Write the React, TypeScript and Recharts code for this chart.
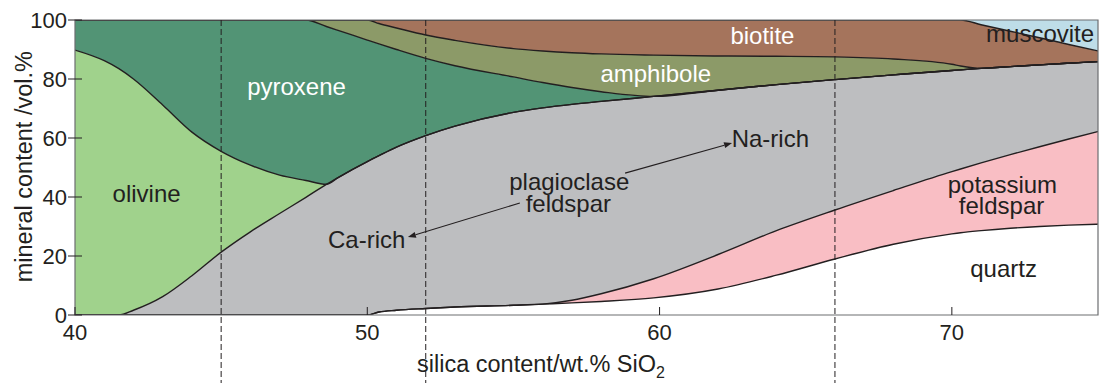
import React from 'react';
import { AreaChart, Area, XAxis, YAxis, ReferenceLine, ReferenceDot, ReferenceArea } from 'recharts';

// silica content (wt.% SiO2) sample positions
const silica = [40, 41, 41.5, 42, 43, 44, 45, 46, 47, 47.9, 48.6, 49, 50, 50.4, 51, 52, 53, 55, 56, 57, 58, 59.8, 62, 64, 66, 68, 70, 70.3, 71, 72, 73, 74, 75];

// upper boundary (cumulative vol.%) of each mineral field
const quartzTop = [0, 0, 0, 0, 0, 0, 0, 0, 0, 0, 0, 0, 0, 1.0, 1.6, 2.2, 2.7, 3.3, 3.7, 4.1, 4.6, 5.8, 8.8, 13.5, 19, 24, 27.5, 27.9, 28.6, 29.4, 30.0, 30.45, 30.8];
const kfeldsparTop = [0, 0, 0, 0, 0, 0, 0, 0, 0, 0, 0, 0, 0, 1.0, 1.6, 2.2, 2.7, 3.3, 3.7, 5.0, 7.2, 12.3, 20.5, 28.6, 35.6, 42.2, 48.6, 49.5, 51.55, 54.35, 57.05, 59.65, 62.2];
const plagioclaseTop = [0, 0, 0, 1.6, 6.2, 13.3, 21.3, 28.2, 34.4, 39.9, 44.3, 46.6, 52, 54, 56.9, 60.8, 64, 68.7, 70.2, 71.4, 72.4, 74.1, 76.2, 78.1, 79.8, 81.4, 82.9, 83.1, 83.6, 84.2, 84.8, 85.35, 85.9];
const olivineTop = [89.8, 86.2, 83.5, 80, 71.2, 62, 55.5, 50.8, 47.4, 45.6, 44.3, 46.6, 52, 54, 56.9, 60.8, 64, 68.7, 70.2, 71.4, 72.4, 74.1, 76.2, 78.1, 79.8, 81.4, 82.9, 83.1, 83.6, 84.2, 84.8, 85.35, 85.9];
const pyroxeneTop = [100, 100, 100, 100, 100, 100, 100, 100, 100, 100, 97.8, 96.5, 93.2, 91.9, 90, 87, 84.5, 80.7, 78.8, 77.1, 75.7, 74.1, 76.2, 78.1, 79.8, 81.4, 82.9, 83.1, 83.6, 84.2, 84.8, 85.35, 85.9];
const amphiboleTop = [100, 100, 100, 100, 100, 100, 100, 100, 100, 100, 100, 100, 100, 98.8, 97.3, 94.9, 93.1, 90.3, 89.5, 88.9, 88.5, 88.1, 87.8, 87.7, 87.5, 86.8, 85, 84.4, 83.6, 84.2, 84.8, 85.35, 85.9];
const biotiteTop = [100, 100, 100, 100, 100, 100, 100, 100, 100, 100, 100, 100, 100, 100, 100, 100, 100, 100, 100, 100, 100, 100, 100, 100, 100, 100, 100, 100, 98.4, 96.2, 94, 91.7, 89.5];
const muscoviteTop = silica.map(() => 100);

const xTicks = [40, 50, 60, 70];
const yTicks = [0, 20, 40, 60, 80, 100];
const dividers = [45, 52, 66];

const xTitle = 'silica content/wt.% SiO';
const xTitleSub = '2';
const yTitle = 'mineral content /vol.%';

const fieldLabels = [
  { text: 'olivine', x: 42.45, y: 41.2, light: false },
  { text: 'pyroxene', x: 47.58, y: 77.4, light: true },
  { text: 'amphibole', x: 59.87, y: 81.9, light: true },
  { text: 'biotite', x: 63.52, y: 94.9, light: true },
  { text: 'muscovite', x: 73.02, y: 95.5, light: false },
  { text: 'plagioclase', x: 56.91, y: 45.4, light: false },
  { text: 'feldspar', x: 56.88, y: 37.8, light: false },
  { text: 'Ca-rich', x: 49.98, y: 25.6, light: false },
  { text: 'Na-rich', x: 63.79, y: 59.9, light: false },
  { text: 'potassium', x: 71.73, y: 44.3, light: false },
  { text: 'feldspar', x: 71.7, y: 37.05, light: false },
  { text: 'quartz', x: 71.77, y: 15.8, light: false },
];

const arrows = [
  { from: { x: 55.22, y: 37.97 }, to: { x: 51.39, y: 26.4 } },
  { from: { x: 58.82, y: 48.1 }, to: { x: 62.48, y: 58.3 } },
];

const FONT = '"Liberation Sans", Arial, Helvetica, sans-serif';
const INK = '#231f20';

const minerals = [
  { key: 'quartz', color: '#ffffff' },
  { key: 'kfeldspar', color: '#f9bec4' },
  { key: 'plagioclase', color: '#bdbec0' },
  { key: 'olivine', color: '#a0d28c' },
  { key: 'pyroxene', color: '#529475' },
  { key: 'amphibole', color: '#8c9a68' },
  { key: 'biotite', color: '#a5745c' },
  { key: 'muscovite', color: '#bedde8' },
];

const data = silica.map((x, i) => ({
  x,
  quartz: quartzTop[i],
  kfeldspar: kfeldsparTop[i] - quartzTop[i],
  plagioclase: plagioclaseTop[i] - kfeldsparTop[i],
  olivine: olivineTop[i] - plagioclaseTop[i],
  pyroxene: pyroxeneTop[i] - olivineTop[i],
  amphibole: amphiboleTop[i] - pyroxeneTop[i],
  biotite: biotiteTop[i] - amphiboleTop[i],
  muscovite: muscoviteTop[i] - biotiteTop[i],
}));

const XTick = (p: any) => (
  <g>
    <line x1={p.x} x2={p.x} y1={p.y} y2={p.y - 8} stroke={INK} strokeWidth={1} />
    <text x={p.x} y={p.y + 25} textAnchor="middle" fontSize={22} fontFamily={FONT} fill={INK}>
      {p.payload.value}
    </text>
  </g>
);

const YTick = (p: any) => (
  <g>
    <line x1={p.x - 7} x2={p.x + 7} y1={p.y} y2={p.y} stroke={INK} strokeWidth={1} />
    <text x={p.x - 8} y={p.y + 8} textAnchor="end" fontSize={22} fontFamily={FONT} fill={INK}>
      {p.payload.value}
    </text>
  </g>
);

const XTitle = (p: any) => {
  const vb = p.viewBox || { x: 75, y: 315 };
  return (
    <text x={vb.x + 466} y={vb.y + 56.5} textAnchor="middle" fontSize={23.5} fontFamily={FONT} fill={INK}>
      {xTitle}
      <tspan fontSize={16} dy={6}>{xTitleSub}</tspan>
    </text>
  );
};

const YTitle = (p: any) => {
  const vb = p.viewBox || { x: 0, y: 20 };
  const cx = vb.x + 32;
  const cy = vb.y + 146.7;
  return (
    <text x={cx} y={cy} transform={`rotate(-90 ${cx} ${cy})`} textAnchor="middle" fontSize={23.5} fontFamily={FONT} fill={INK}>
      {yTitle}
    </text>
  );
};

const dividerShape = (p: any) => (
  <line x1={p.x1} x2={p.x2} y1={Math.min(p.y1, p.y2)} y2={383} stroke={INK} strokeWidth={1} strokeDasharray="6 3" />
);

const arrowShape = (p: any) => {
  const { x1, y1, x2, y2 } = p;
  const dx = x2 - x1;
  const dy = y2 - y1;
  const len = Math.hypot(dx, dy) || 1;
  const ux = dx / len;
  const uy = dy / len;
  const hl = 8;
  const hw = 3;
  const bx = x2 - ux * hl;
  const by = y2 - uy * hl;
  return (
    <g>
      <line x1={x1} y1={y1} x2={bx} y2={by} stroke={INK} strokeWidth={1.1} />
      <polygon points={`${x2},${y2} ${bx - uy * hw},${by + ux * hw} ${bx + uy * hw},${by - ux * hw}`} fill={INK} />
    </g>
  );
};

const labelShape = (text: string, color: string) => (p: any) => (
  <text x={p.cx} y={p.cy} textAnchor="middle" dominantBaseline="central" fontSize={24} fontFamily={FONT} fill={color}>
    {text}
  </text>
);

export default function App() {
  return (
    <div style={{ position: 'absolute', left: 0, top: 0, width: 1100, height: 383, background: '#fff' }}>
      <AreaChart width={1100} height={383} data={data} margin={{ top: 20, right: 2, bottom: 0, left: 0 }}>
        {minerals.map((m) => (
          <Area
            key={'f-' + m.key}
            dataKey={m.key}
            stackId="fill"
            type="monotone"
            fill={m.color}
            fillOpacity={1}
            stroke="none"
            dot={false}
            activeDot={false}
            isAnimationActive={false}
          />
        ))}
        {minerals.map((m) => (
          <Area
            key={'l-' + m.key}
            dataKey={m.key}
            stackId="line"
            type="monotone"
            fill="none"
            stroke={m.key === 'muscovite' ? 'none' : INK}
            strokeWidth={1.4}
            dot={false}
            activeDot={false}
            isAnimationActive={false}
          />
        ))}
        <XAxis
          dataKey="x"
          type="number"
          domain={[40, 75]}
          ticks={xTicks}
          allowDataOverflow
          axisLine={false}
          tickLine={false}
          tickSize={0}
          tickMargin={0}
          height={68}
          tick={XTick}
          label={XTitle}
        />
        <YAxis
          type="number"
          domain={[0, 100]}
          ticks={yTicks}
          allowDataOverflow
          axisLine={false}
          tickLine={false}
          tickSize={0}
          tickMargin={0}
          width={75}
          tick={YTick}
          label={YTitle}
        />
        <ReferenceArea x1={40} x2={75} y1={0} y2={100} fill="none" stroke="#6d6e71" strokeWidth={1.2} />
        {dividers.map((d) => (
          <ReferenceLine key={'d' + d} x={d} shape={dividerShape} />
        ))}
        {arrows.map((a, i) => (
          <ReferenceLine key={'a' + i} segment={[a.from, a.to]} shape={arrowShape} />
        ))}
        {fieldLabels.map((l, i) => (
          <ReferenceDot key={'t' + i} x={l.x} y={l.y} r={0} shape={labelShape(l.text, l.light ? '#ffffff' : INK)} />
        ))}
      </AreaChart>
    </div>
  );
}
